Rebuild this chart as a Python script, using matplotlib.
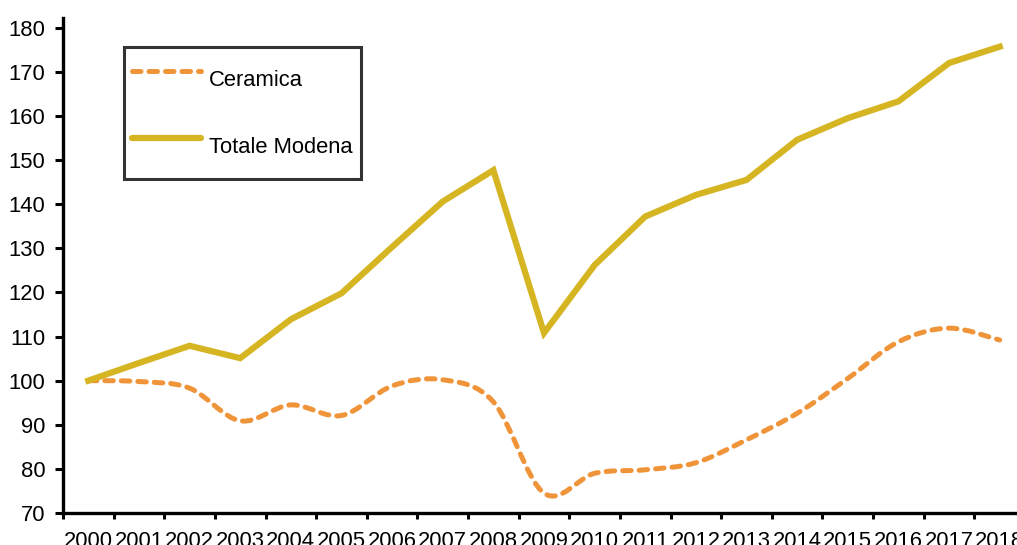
import numpy as np
import matplotlib
matplotlib.use("Agg")
import matplotlib.pyplot as plt
from matplotlib.path import Path
from matplotlib.patches import PathPatch
from matplotlib.lines import Line2D

plt.rcParams['font.family'] = ['Liberation Sans', 'DejaVu Sans']

anni = ["2000", "2001", "2002", "2003", "2004", "2005", "2006", "2007", "2008", "2009",
        "2010", "2011", "2012", "2013", "2014", "2015", "2016", "2017", "2018"]
ceramica = [100, 99.8, 98.3, 90.9, 94.5, 92.1, 98.8, 100.2, 95.2, 74.5,
            79.0, 79.8, 81.4, 86.6, 92.6, 100.5, 108.8, 111.9, 109.2]
totale_modena = [100, 104.0, 107.9, 105.1, 113.9, 119.8, 130.3, 140.6, 147.7, 110.8,
                 126.2, 137.2, 142.1, 145.5, 154.6, 159.5, 163.3, 172.0, 175.7]
y_ticks = list(range(70, 190, 10))

col_ceramica = "#F0943A"
col_totale = "#D6B523"
dash_style = (0, (1.7, 1.6))
fs = 15.8

fig = plt.figure(figsize=(10.17, 5.45), dpi=100)
# axes run past the right edge, as in the exported sheet chart
ax = fig.add_axes([63 / 1017, 32 / 545, 962 / 1017, 495 / 545])

x = np.arange(len(anni))

# smoothed line (bezier through the points, like a spreadsheet "smoothed line")
pts = np.column_stack([x, ceramica]).astype(float)
verts = [tuple(pts[0])]
codes = [Path.MOVETO]
n = len(pts)
for i in range(n - 1):
    p_prev = pts[i - 1] if i > 0 else pts[i]
    p_next2 = pts[i + 2] if i + 2 < n else pts[i + 1]
    c1 = pts[i] + (pts[i + 1] - p_prev) / 6
    c2 = pts[i + 1] - (p_next2 - pts[i]) / 6
    verts += [tuple(c1), tuple(c2), tuple(pts[i + 1])]
    codes += [Path.CURVE4] * 3
patch = PathPatch(Path(verts, codes), fill=False, edgecolor=col_ceramica, lw=3.6,
                  linestyle=dash_style, capstyle='round', joinstyle='round', zorder=3)
ax.add_patch(patch)

ax.plot(x, totale_modena, color=col_totale, lw=4.5, solid_joinstyle='miter', zorder=3)

ax.set_xlim(-0.5, len(anni) - 0.5)
ax.set_ylim(70, 182.2)
ax.set_yticks(y_ticks)
ax.set_xticks(np.arange(-0.5, len(anni), 1))
ax.set_xticks(x, anni, minor=True)

for s in ["top", "right"]:
    ax.spines[s].set_visible(False)
for s in ["left", "bottom"]:
    ax.spines[s].set_linewidth(2.4)

ax.tick_params(axis='y', length=5.8, width=2.2, pad=7, labelsize=fs, colors='black')
ax.tick_params(axis='x', which='major', length=4.5, width=2.2, labelbottom=False)
ax.tick_params(axis='x', which='minor', length=0, pad=13, labelsize=fs)

handles = [
    Line2D([], [], color=col_ceramica, lw=3.6, linestyle=dash_style,
           dash_capstyle='round'),
    Line2D([], [], color=col_totale, lw=4.5, solid_capstyle='round'),
]
leg = ax.legend(handles, ["Ceramica", "Totale Modena"], loc='upper left',
                bbox_to_anchor=(124 / 1017, 1 - 47 / 545), bbox_transform=fig.transFigure,
                fontsize=fs, frameon=True, fancybox=False, borderpad=0.38,
                borderaxespad=0, handlelength=3.15, handletextpad=0.35,
                handleheight=3.0, labelspacing=0.88)
leg.get_frame().set_edgecolor('black')
leg.get_frame().set_linewidth(2.2)

fig.savefig("out.png", dpi=100)
